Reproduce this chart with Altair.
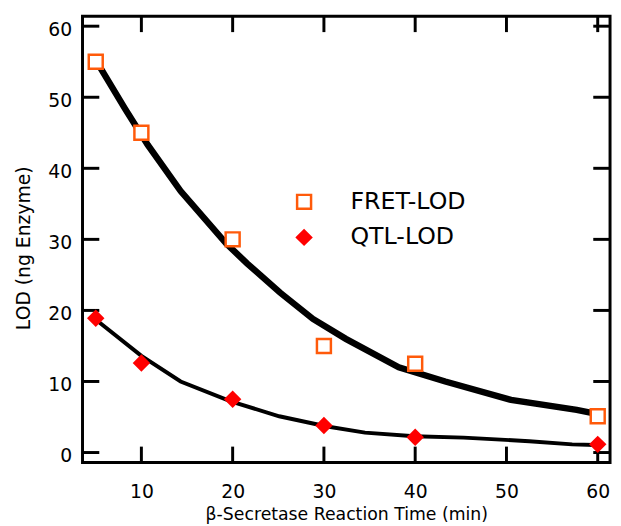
import altair as alt
import pandas as pd

# ---- data ----
times = [5, 10, 20, 30, 40, 60]
fret_lod = [55, 45, 30, 15, 12.5, 5.1]
qtl_lod = [18.9, 12.6, 7.5, 3.8, 2.15, 1.15]

fret_curve_x = [5.3, 8.2, 10.7, 14.3, 19.3, 21.6, 25.2, 28.8, 32.4, 38.2, 43.3, 50.5, 57.7, 59.6]
fret_curve_y = [54.6, 48.4, 43.3, 36.8, 29.4, 26.6, 22.5, 18.8, 16.0, 12.0, 10.0, 7.4, 6.0, 5.5]
qtl_curve_x = [5.3, 10, 14.3, 19.8, 25.1, 30.2, 34.5, 39.9, 45.3, 52.5, 57.2, 59.7]
qtl_curve_y = [18.4, 13.6, 10.0, 7.2, 5.1, 3.7, 2.8, 2.3, 2.1, 1.6, 1.15, 1.05]

series_names = ["FRET-LOD", "QTL-LOD"]
x_ticks = [10, 20, 30, 40, 50, 60]
y_ticks = [0, 10, 20, 30, 40, 50, 60]

x_title = "β-Secretase Reaction Time (min)"
y_title = "LOD (ng Enzyme)"

# ---- tables ----
pts = pd.DataFrame({
    "t": times * 2,
    "lod": fret_lod + qtl_lod,
    "series": [series_names[0]] * len(times) + [series_names[1]] * len(times),
})
fret_curve = pd.DataFrame({"t": fret_curve_x, "lod": fret_curve_y})
qtl_curve = pd.DataFrame({"t": qtl_curve_x, "lod": qtl_curve_y})
xt = pd.DataFrame({"t": x_ticks})
yt = pd.DataFrame({"lod": y_ticks})

W, H = 534.5, 452
FONT = "DejaVu Sans"
TICK = 17

xscale = alt.Scale(domain=[3.55, 61.35], nice=False, zero=False)
yscale = alt.Scale(domain=[-1.39, 61.39], nice=False, zero=False)

x_axis = alt.Axis(values=x_ticks, format="d", domain=False, ticks=False, tickSize=0, grid=False,
                  labelFont=FONT, labelFontSize=19, labelPadding=21, labelColor="black",
                  title=x_title, titleFont=FONT, titleFontSize=17.5, titleFontWeight="normal",
                  titleColor="black", titleY=58, titleBaseline="alphabetic")
y_axis = alt.Axis(values=y_ticks, format="d", domain=False, ticks=False, tickSize=0, grid=False,
                  labelFont=FONT, labelFontSize=19, labelPadding=11, labelOffset=3, labelColor="black",
                  title=y_title, titleFont=FONT, titleFontSize=19, titleFontWeight="normal",
                  titleColor="black", titleX=-53.5, titleY=234.5, titleBaseline="alphabetic",
                  titleAngle=270)

X = alt.X("t:Q", scale=xscale, axis=x_axis, title=x_title)
Y = alt.Y("lod:Q", scale=yscale, axis=y_axis, title=y_title)

legend = alt.Legend(title=None, orient="none", legendX=212.5, legendY=176, padding=0,
                    labelFont=FONT, labelFontSize=24, labelColor="black", labelOffset=35,
                    symbolSize=200, symbolStrokeWidth=2.5, rowPadding=10, labelLimit=300)

fret_line = alt.Chart(fret_curve).mark_line(color="black", strokeWidth=6.5).encode(x=X, y=Y)
qtl_line = alt.Chart(qtl_curve).mark_line(color="black", strokeWidth=4).encode(x=X, y=Y)

points = alt.Chart(pts).mark_point(size=200, strokeWidth=2.5, opacity=1).encode(
    x=X, y=Y,
    shape=alt.Shape("series:N", scale=alt.Scale(domain=series_names, range=["square", "diamond"]), legend=legend),
    color=alt.Color("series:N", scale=alt.Scale(domain=series_names, range=["#FF5A0A", "#FF0000"]), legend=legend),
    fill=alt.Fill("series:N", scale=alt.Scale(domain=series_names, range=["white", "#FF0000"]), legend=legend),
)

rule_style = dict(color="black", strokeWidth=3)
left_ticks = alt.Chart(yt).mark_rule(**rule_style).encode(y=Y, x=alt.value(0), x2=alt.value(TICK))
right_ticks = alt.Chart(yt).mark_rule(**rule_style).encode(y=Y, x=alt.value(W - TICK), x2=alt.value(W))
bottom_ticks = alt.Chart(xt).mark_rule(**rule_style).encode(x=X, y=alt.value(H - 16), y2=alt.value(H))
top_ticks = alt.Chart(xt).mark_rule(**rule_style).encode(x=X, y=alt.value(0), y2=alt.value(16))

chart = alt.layer(left_ticks, right_ticks, bottom_ticks, top_ticks, fret_line, qtl_line, points).properties(
    width=W, height=H,
    autosize=alt.AutoSizeParams(type="none"),
    padding={"left": 75.5, "top": 5, "right": 3, "bottom": 61},
).configure_view(
    stroke="black", strokeWidth=3
)

chart.save("out.html", embed_options={"renderer": "svg", "actions": False})
